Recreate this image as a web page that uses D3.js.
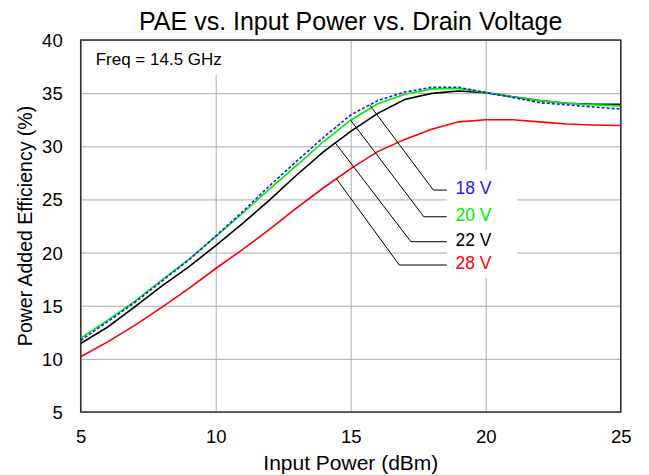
<!DOCTYPE html>
<html>
<head>
<meta charset="utf-8">
<script src="https://cdn.jsdelivr.net/npm/d3@7"></script>
<style>
  body { margin: 0; background: #fff; }
  text { font-family: "Liberation Sans", Arial, sans-serif; fill: #000; }
</style>
</head>
<body>
<script>
// input power (dBm)
const pin = [5, 6, 7, 8, 9, 10, 11, 12, 13, 14, 15, 16, 17, 18, 19, 20, 21, 22, 23, 24, 25];

// PAE (%) per drain voltage
const pae18 = [11.75, 13.5, 15.3, 17.3, 19.3, 21.55, 23.85, 26.3, 28.6, 30.85, 32.95, 34.3, 35.1, 35.55, 35.55, 35.05, 34.6, 34.1, 33.9, 33.7, 33.5];
const pae20 = [11.95, 13.65, 15.4, 17.4, 19.35, 21.5, 23.7, 26.0, 28.2, 30.45, 32.45, 34.0, 34.9, 35.4, 35.45, 35.05, 34.66, 34.3, 34.05, 33.9, 33.8];
const pae22 = [11.45, 13.0, 14.9, 16.85, 18.65, 20.65, 22.75, 24.95, 27.3, 29.5, 31.4, 33.1, 34.4, 34.98, 35.2, 35.05, 34.66, 34.3, 34.05, 33.95, 33.95];
const pae28 = [10.2, 11.6, 13.15, 14.85, 16.6, 18.5, 20.3, 22.2, 24.2, 26.1, 27.9, 29.5, 30.65, 31.6, 32.3, 32.5, 32.5, 32.3, 32.1, 32.0, 31.95];

const xTicks = [5, 10, 15, 20, 25];
const yTicks = [5, 10, 15, 20, 25, 30, 35, 40];

// callout labels: where the leader touches the curve, elbow, label height
const labels = ["18 V", "20 V", "22 V", "28 V"];
const anchorX = [15.7, 15.0, 14.43, 14.47];
const elbowX = [18.06, 17.71, 17.23, 16.8];
const labelY = [25.88, 23.37, 21.02, 18.83];
const leaderEndX = 18.56;

const W = 649, H = 475;
const mLeft = 80.7, mRight = 620.7, mTop = 40, mBottom = 412;

const svg = d3.select("body").append("svg")
  .attr("width", W)
  .attr("height", H);

const x = d3.scaleLinear().domain([5, 25]).range([mLeft, mRight]);
const y = d3.scaleLinear().domain([5, 40]).range([mBottom, mTop]);

// grid + tick labels
const gx = svg.append("g")
  .attr("transform", `translate(0,${mBottom})`)
  .call(d3.axisBottom(x).tickValues(xTicks).tickSizeInner(-(mBottom - mTop)).tickSizeOuter(0).tickPadding(0));
gx.select(".domain").remove();
gx.selectAll("line").attr("stroke", "#aaaaaa").attr("stroke-width", 1);
gx.selectAll("text").attr("y", 30.7).attr("dy", null).style("font-size", "18.5px");

const gy = svg.append("g")
  .attr("transform", `translate(${mLeft},0)`)
  .call(d3.axisLeft(y).tickValues(yTicks).tickSizeInner(-(mRight - mLeft)).tickSizeOuter(0).tickPadding(18));
gy.select(".domain").remove();
gy.selectAll("line").attr("stroke", "#aaaaaa").attr("stroke-width", 1);
gy.selectAll("text").attr("dy", "0.35em").style("font-size", "18.5px");

// white boxes behind the texts inside the plot
svg.append("rect")
  .attr("x", 88).attr("y", mTop + 1).attr("width", 146).attr("height", 34)
  .attr("fill", "#fff");
svg.append("rect")
  .attr("x", 447).attr("y", 170).attr("width", 70).attr("height", 108)
  .attr("fill", "#fff");

const series = [
  { v: pae28, color: "#ff0000", dash: null },
  { v: pae22, color: "#000000", dash: null },
  { v: pae20, color: "#00ee00", dash: null },
  { v: pae18, color: "#1a1aff", dash: "3,2" }
];

const line = d3.line()
  .x((d, i) => x(pin[i]))
  .y(d => y(d));

svg.selectAll("path.curve")
  .data(series)
  .enter()
  .append("path")
  .attr("class", "curve")
  .attr("d", d => line(d.v))
  .attr("fill", "none")
  .attr("stroke", d => d.color)
  .attr("stroke-width", 1.6)
  .attr("stroke-dasharray", d => d.dash);

// leaders
const byLabel = [pae18, pae20, pae22, pae28];
const labelColors = ["#1a1aff", "#00ee00", "#000000", "#ff0000"];
function valueAt(arr, p) {
  const i = Math.min(pin.length - 2, Math.floor(p - pin[0]));
  const t = (p - pin[i]) / (pin[i + 1] - pin[i]);
  return arr[i] + t * (arr[i + 1] - arr[i]);
}

labels.forEach((lab, k) => {
  const pts = [
    [x(anchorX[k]), y(valueAt(byLabel[k], anchorX[k]))],
    [x(elbowX[k]), y(labelY[k])],
    [x(leaderEndX), y(labelY[k])]
  ];
  svg.append("path")
    .attr("d", d3.line()(pts))
    .attr("fill", "none")
    .attr("stroke", "#000")
    .attr("stroke-width", 1);
  svg.append("text")
    .attr("x", 455.5)
    .attr("y", y(labelY[k]) + 4)
    .style("font-size", "17.5px")
    .style("fill", labelColors[k])
    .text(lab);
});

// frame
svg.append("rect")
  .attr("x", mLeft).attr("y", mTop)
  .attr("width", mRight - mLeft).attr("height", mBottom - mTop)
  .attr("fill", "none")
  .attr("stroke", "#333")
  .attr("stroke-width", 1.5);

// texts
svg.append("text")
  .attr("x", 95.7).attr("y", 65)
  .style("font-size", "17px")
  .text("Freq = 14.5 GHz");

svg.append("text")
  .attr("x", (mLeft + mRight) / 2).attr("y", 30)
  .attr("text-anchor", "middle")
  .style("font-size", "25px")
  .text("PAE vs. Input Power vs. Drain Voltage");

svg.append("text")
  .attr("x", 350.8).attr("y", 470)
  .attr("text-anchor", "middle")
  .attr("textLength", 175)
  .attr("lengthAdjust", "spacingAndGlyphs")
  .style("font-size", "20px")
  .text("Input Power (dBm)");

svg.append("text")
  .attr("transform", "translate(32,226) rotate(-90)")
  .attr("text-anchor", "middle")
  .style("font-size", "19.5px")
  .text("Power Added Efficiency (%)");
</script>
</body>
</html>
